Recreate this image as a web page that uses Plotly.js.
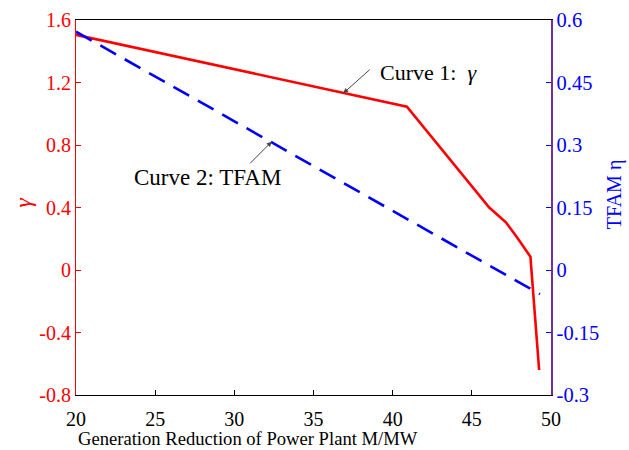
<!DOCTYPE html>
<html>
<head>
<meta charset="utf-8">
<script src="https://cdn.plot.ly/plotly-3.0.1.min.js"></script>
<style>html,body{margin:0;padding:0;background:#fff;}#chart{width:629px;height:450px;}</style>
</head>
<body>
<div id="chart"></div>
<script>
// Curve 1: gamma (left axis)
var xGamma = [20, 40.9, 46.1, 47.15, 47.85, 48.7, 49.25];
var gamma  = [1.505, 1.045, 0.40, 0.305, 0.21, 0.085, -0.64];
// Curve 2: TFAM eta (right axis)
var xTfam = [20, 49.3];
var tfam  = [0.572, -0.058];

var xTicks = [20, 25, 30, 35, 40, 45, 50];
var yLeftTicks = [-0.8, -0.4, 0, 0.4, 0.8, 1.2, 1.6];
var yLeftLabels = ["-0.8", "-0.4", "0", "0.4", "0.8", "1.2", "1.6"];
var yRightTicks = [-0.3, -0.15, 0, 0.15, 0.3, 0.45, 0.6];
var yRightLabels = ["-0.3", "-0.15", "0", "0.15", "0.3", "0.45", "0.6"];

var xTitle = "Generation Reduction of Power Plant M/MW";
var yLeftTitle = "<i>γ</i>";
var yRightTitle = "TFAM η";
var label1 = "Curve 1:  <i>γ</i>";
var label2 = "Curve 2: TFAM";

var FONT = "Liberation Serif";

var traces = [
  {x: xGamma, y: gamma, type: "scatter", mode: "lines",
   line: {color: "#ff0000", width: 2.6}, yaxis: "y", hoverinfo: "skip"},
  {x: xTfam, y: tfam, type: "scatter", mode: "lines",
   line: {color: "#0000ff", width: 2.6, dash: "18px,10px"}, yaxis: "y2", hoverinfo: "skip"}
];

var layout = {
  width: 629, height: 450,
  margin: {l: 76, r: 78, t: 20, b: 55},
  paper_bgcolor: "#ffffff", plot_bgcolor: "#ffffff",
  showlegend: false,
  font: {family: FONT, size: 20, color: "#000"},
  xaxis: {
    range: [20, 50], tickvals: xTicks, ticktext: xTicks.map(String),
    showgrid: false, zeroline: false,
    showline: true, linecolor: "#000", linewidth: 1, mirror: true,
    ticks: "inside", ticklen: 5, tickcolor: "#000",
    ticklabelstandoff: 6,
    tickfont: {family: FONT, size: 20, color: "#000"}
  },
  yaxis: {
    range: [-0.8, 1.6], tickvals: yLeftTicks, ticktext: yLeftLabels,
    showgrid: false, zeroline: false,
    showline: true, linecolor: "#ff0000", linewidth: 1,
    ticks: "inside", ticklen: 5, tickcolor: "#ff0000",
    tickfont: {family: FONT, size: 20, color: "#ff0000"}
  },
  yaxis2: {
    range: [-0.3, 0.6], tickvals: yRightTicks, ticktext: yRightLabels,
    overlaying: "y", side: "right",
    showgrid: false, zeroline: false,
    showline: true, linecolor: "#7030a0", linewidth: 1.5,
    ticks: "inside", ticklen: 5, tickcolor: "#0000ff",
    tickfont: {family: FONT, size: 20.5, color: "#0000ff"}
  },
  annotations: [
    {x: 36.88, y: 1.131, xref: "x", yref: "y", text: "", showarrow: true,
     ax: 28, ay: -25, arrowhead: 2, arrowsize: 1, arrowwidth: 1, arrowcolor: "#444"},
    {x: 32.36, y: 0.821, xref: "x", yref: "y", text: "", showarrow: true,
     ax: -23, ay: 23, arrowhead: 2, arrowsize: 1, arrowwidth: 1, arrowcolor: "#444"},
    {x: 39.08, y: 1.261, xref: "x", yref: "y", xanchor: "left", yanchor: "middle",
     text: label1, showarrow: false, font: {family: FONT, size: 22, color: "#000"}},
    {x: 23.52, y: 0.589, xref: "x", yref: "y", xanchor: "left", yanchor: "middle",
     text: label2, showarrow: false, font: {family: FONT, size: 23, color: "#000"}},
    {x: 0.362, y: -0.1147, xref: "paper", yref: "paper", xanchor: "center", yanchor: "middle",
     text: xTitle, showarrow: false, font: {family: FONT, size: 18.6, color: "#000"}},
    {x: -0.112, y: 0.512, xref: "paper", yref: "paper", xanchor: "center", yanchor: "middle",
     textangle: -90, text: yLeftTitle, showarrow: false, font: {family: FONT, size: 24, color: "#ff0000"}},
    {x: 1.133, y: 0.536, xref: "paper", yref: "paper", xanchor: "center", yanchor: "middle",
     textangle: -90, text: yRightTitle, showarrow: false, font: {family: FONT, size: 20, color: "#0000ff"}}
  ]
};

Plotly.newPlot("chart", traces, layout, {staticPlot: true, displayModeBar: false});
</script>
</body>
</html>
